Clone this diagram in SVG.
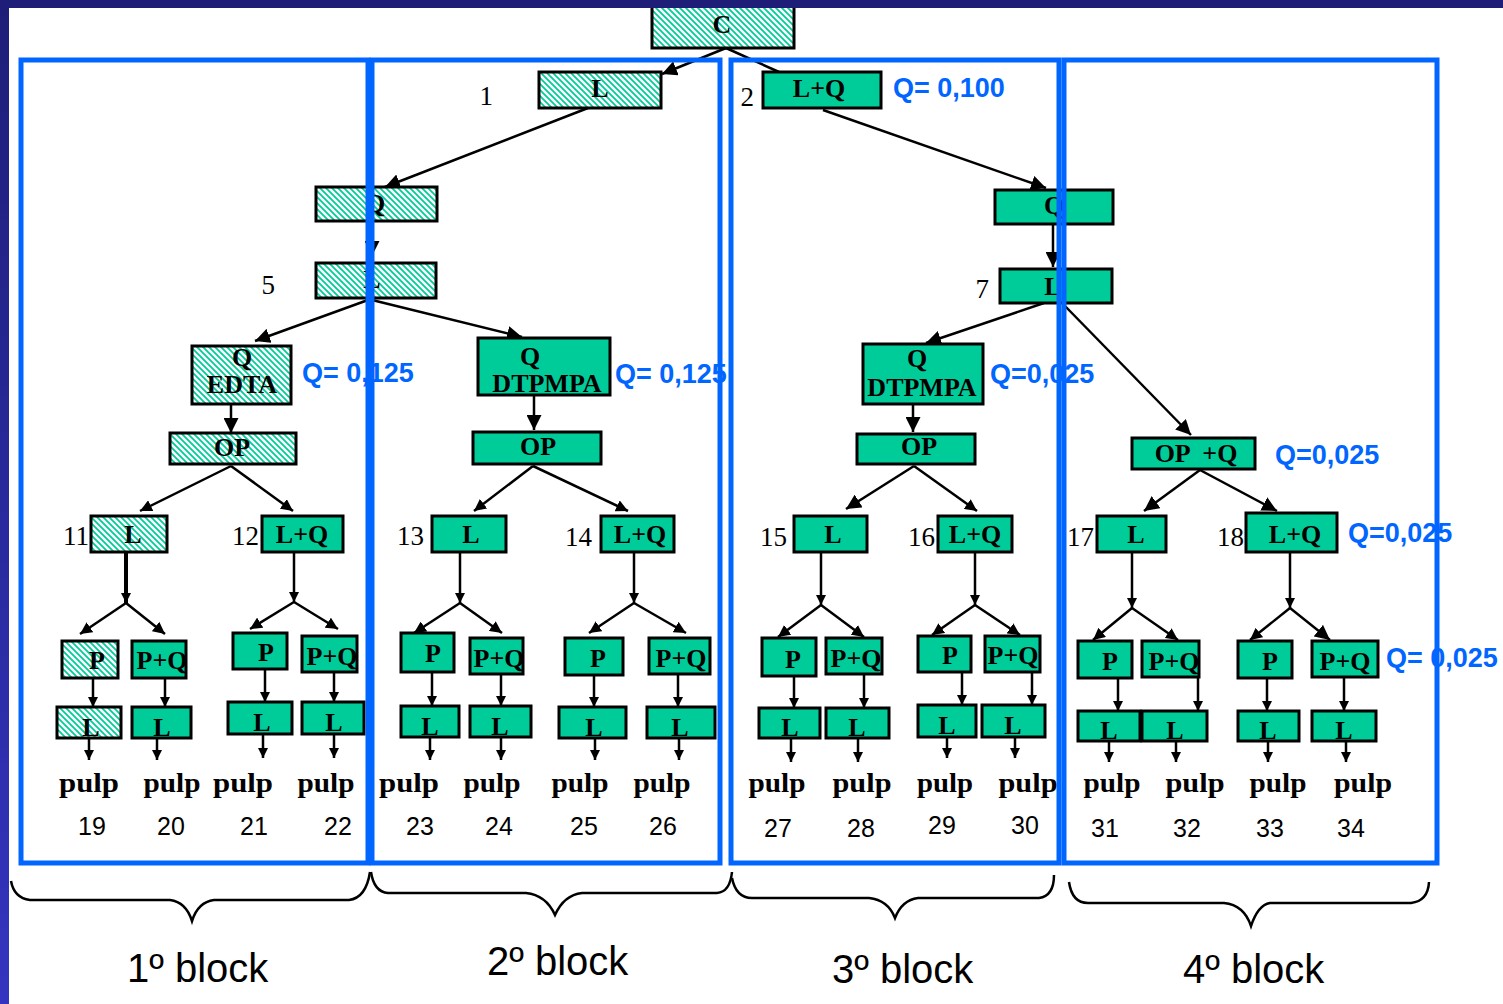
<svg xmlns="http://www.w3.org/2000/svg" width="1503" height="1004" viewBox="0 0 1503 1004">
<style>
.h{fill:url(#hatch);stroke:#000;stroke-width:3}
.s{fill:#00cc99;stroke:#000;stroke-width:3}
.lb{font-family:"Liberation Serif",serif;font-weight:bold;font-size:26px;text-anchor:middle;fill:#000}
.n{font-family:"Liberation Serif",serif;font-size:27px;text-anchor:end;fill:#000}
.bn{font-family:"Liberation Sans",sans-serif;font-size:25px;text-anchor:middle;fill:#000}
.pu{font-family:"Liberation Serif",serif;font-weight:bold;font-size:27px;text-anchor:middle;fill:#000}
.q{font-family:"Liberation Sans",sans-serif;font-weight:bold;font-size:27px;fill:#0066ff}
.fr{fill:none;stroke:#0066ff;stroke-width:5}
.c{fill:none;stroke:#000;stroke-width:2.5}
.ca{fill:none;stroke:#000;stroke-width:2.5;marker-end:url(#a)}
.cm{fill:none;stroke:#000;stroke-width:2.5;marker-end:url(#m)}
.cs{fill:none;stroke:#000;stroke-width:2.5;marker-end:url(#sm)}
.br{fill:none;stroke:#000;stroke-width:2.5}
.bl{font-family:"Liberation Sans",sans-serif;font-size:40px;fill:#000}
</style>
<defs>
<pattern id="hatch" patternUnits="userSpaceOnUse" width="6" height="6">
<rect width="6" height="6" fill="#fff"/>
<path d="M-1,-1 L7,7 M-1,5 L1,7 M5,-1 L7,1" stroke="#00cc99" stroke-width="1.8"/>
</pattern>
<linearGradient id="lg" x1="0" y1="0" x2="0" y2="1">
<stop offset="0" stop-color="#1e1e78"/>
<stop offset="1" stop-color="#3434c0"/>
</linearGradient>
<marker id="a" viewBox="0 0 10 10" refX="10" refY="5" markerUnits="userSpaceOnUse" markerWidth="15" markerHeight="15" orient="auto">
<path d="M0,0 L10,5 L0,10 z" fill="#000"/>
</marker>
<marker id="m" viewBox="0 0 10 10" refX="10" refY="5" markerUnits="userSpaceOnUse" markerWidth="12" markerHeight="12" orient="auto">
<path d="M0,0 L10,5 L0,10 z" fill="#000"/>
</marker>
<marker id="sm" viewBox="0 0 10 10" refX="10" refY="5" markerUnits="userSpaceOnUse" markerWidth="10" markerHeight="10" orient="auto">
<path d="M0,0 L10,5 L0,10 z" fill="#000"/>
</marker>
</defs>
<rect width="1503" height="1004" fill="#fff"/>

<g id="connectors">
<path class="ca" d="M726,48 L662,74"/>
<path class="c" d="M726,48 L779,72"/>
<path class="ca" d="M588,108 L385,187"/>
<path class="ca" d="M372,222 L372,256"/>
<path class="ca" d="M368,300 L255,341"/>
<path class="ca" d="M372,300 L522,337"/>
<path class="ca" d="M231,405 L231,433"/>
<path class="ca" d="M823,110 L1046,188"/>
<path class="ca" d="M1053,225 L1053,267"/>
<path class="ca" d="M1044,303 L926,343"/>
<path class="ca" d="M1065,306 L1191,435"/>
<path class="ca" d="M534,396 L534,430"/>
<path class="ca" d="M913,405 L913,432"/>
<path class="cm" d="M231,466 L140,511"/>
<path class="cm" d="M231,466 L293,511"/>
<path class="cm" d="M533,466 L474,511"/>
<path class="cm" d="M533,466 L628,511"/>
<path class="ca" d="M914,466 L846,509"/>
<path class="cm" d="M914,466 L977,511"/>
<path class="ca" d="M1200,470 L1144,511"/>
<path class="ca" d="M1200,470 L1277,511"/>
<!-- 11 -->
<path class="cs" d="M126,552 L126,603" style="stroke-width:4"/>
<path class="cm" d="M126,603 L80,634"/><path class="cm" d="M126,603 L165,634"/>
<path class="cs" d="M93,679 L93,707"/><path class="cs" d="M165,679 L165,707"/>
<path class="cs" d="M89,739 L89,760"/><path class="cs" d="M157,739 L157,760"/>
<!-- 12 -->
<path class="cs" d="M294,552 L294,602"/>
<path class="cm" d="M294,602 L250,629"/><path class="cm" d="M294,602 L338,629"/>
<path class="cs" d="M265,670 L265,702"/><path class="cs" d="M334,673 L334,702"/>
<path class="cs" d="M263,735 L263,758"/><path class="cs" d="M334,735 L334,758"/>
<!-- 13 -->
<path class="cs" d="M460,552 L460,603"/>
<path class="cm" d="M460,603 L414,633"/><path class="cm" d="M460,603 L502,633"/>
<path class="cs" d="M432,673 L432,706"/><path class="cs" d="M501,675 L501,706"/>
<path class="cs" d="M430,738 L430,760"/><path class="cs" d="M501,738 L501,760"/>
<!-- 14 -->
<path class="cs" d="M634,552 L634,603"/>
<path class="cm" d="M634,603 L589,633"/><path class="cm" d="M634,603 L686,633"/>
<path class="cs" d="M594,676 L594,707"/><path class="cs" d="M678,675 L678,707"/>
<path class="cs" d="M595,739 L595,760"/><path class="cs" d="M679,739 L679,760"/>
<!-- 15 -->
<path class="cs" d="M821,552 L821,605"/>
<path class="cm" d="M821,605 L778,637"/><path class="cm" d="M821,605 L864,637"/>
<path class="cs" d="M794,677 L794,708"/><path class="cs" d="M864,675 L864,708"/>
<path class="cs" d="M791,739 L791,762"/><path class="cs" d="M858,739 L858,762"/>
<!-- 16 -->
<path class="cs" d="M975,552 L975,605"/>
<path class="cm" d="M975,605 L932,635"/><path class="cm" d="M975,605 L1020,635"/>
<path class="cs" d="M962,673 L962,705"/><path class="cs" d="M1032,673 L1032,705"/>
<path class="cs" d="M947,738 L947,758"/><path class="cs" d="M1015,738 L1015,758"/>
<!-- 17 -->
<path class="cs" d="M1132,552 L1132,608"/>
<path class="cm" d="M1132,608 L1093,640"/><path class="cm" d="M1132,608 L1178,640"/>
<path class="cs" d="M1118,679 L1118,711"/><path class="cs" d="M1198,678 L1198,711"/>
<path class="cs" d="M1109,742 L1109,762"/><path class="cs" d="M1176,742 L1176,762"/>
<!-- 18 -->
<path class="cs" d="M1290,552 L1290,608"/>
<path class="cm" d="M1290,608 L1250,640"/><path class="ca" d="M1290,608 L1330,640"/>
<path class="cs" d="M1267,679 L1267,711"/><path class="cs" d="M1344,678 L1344,711"/>
<path class="cs" d="M1268,742 L1268,762"/><path class="cs" d="M1346,742 L1346,762"/>
</g>

<g id="node-C"><rect class="h" x="652" y="2" width="142" height="46"/><text class="lb" x="722" y="33">C</text></g>
<g id="node-1"><rect class="h" x="539" y="72" width="122" height="36"/><text class="lb" x="600" y="97">L</text><text class="n" x="493" y="105">1</text></g>
<g id="node-2"><rect class="s" x="763" y="72" width="118" height="36"/><text class="lb" x="819" y="97">L+Q</text><text class="n" x="754" y="106">2</text><text class="q" x="893" y="97">Q= 0,100</text></g>
<g id="node-3"><rect class="h" x="316" y="187" width="121" height="34"/><text class="lb" x="375" y="212">Q</text></g>
<g id="node-5"><rect class="h" x="316" y="263" width="120" height="35"/><text class="lb" x="372" y="288">L</text><text class="n" x="275" y="294">5</text></g>
<g id="node-Q-EDTA"><rect class="h" x="192" y="346" width="99" height="58"/><text class="lb" x="242" y="366">Q</text><text class="lb" x="242" y="393">EDTA</text><text class="q" x="302" y="382">Q= 0,125</text></g>
<g id="node-OP-1"><rect class="h" x="170" y="433" width="126" height="31"/><text class="lb" x="232" y="456">OP</text></g>
<g id="node-Q-DTPMPA-2"><rect class="s" x="478" y="338" width="132" height="57"/><text class="lb" x="530" y="365">Q</text><text class="lb" x="547" y="392">DTPMPA</text><text class="q" x="615" y="383">Q= 0,125</text></g>
<g id="node-OP-2"><rect class="s" x="473" y="432" width="128" height="32"/><text class="lb" x="538" y="455">OP</text></g>
<g id="node-6"><rect class="s" x="995" y="190" width="118" height="34"/><text class="lb" x="1054" y="214">Q</text></g>
<g id="node-7"><rect class="s" x="1000" y="269" width="112" height="34"/><text class="lb" x="1053" y="295">L</text><text class="n" x="989" y="298">7</text></g>
<g id="node-Q-DTPMPA-3"><rect class="s" x="863" y="344" width="120" height="60"/><text class="lb" x="917" y="367">Q</text><text class="lb" x="922" y="396">DTPMPA</text><text class="q" x="990" y="383">Q=0,025</text></g>
<g id="node-OP-3"><rect class="s" x="857" y="434" width="118" height="30"/><text class="lb" x="919" y="455">OP</text></g>
<g id="node-OPQ-4"><rect class="s" x="1132" y="438" width="123" height="31"/><text class="lb" x="1196" y="462" xml:space="preserve">OP  +Q</text><text class="q" x="1275" y="464">Q=0,025</text></g>

<g id="node-11"><rect class="h" x="91" y="516" width="76" height="36"/><text class="lb" x="133" y="543">L</text><text class="n" x="89" y="545">11</text></g>
<g id="node-12"><rect class="s" x="262" y="516" width="81" height="36"/><text class="lb" x="302" y="543">L+Q</text><text class="n" x="259" y="545">12</text></g>
<g id="node-13"><rect class="s" x="432" y="516" width="74" height="36"/><text class="lb" x="471" y="543">L</text><text class="n" x="424" y="545">13</text></g>
<g id="node-14"><rect class="s" x="601" y="516" width="73" height="36"/><text class="lb" x="640" y="543">L+Q</text><text class="n" x="592" y="546">14</text></g>
<g id="node-15"><rect class="s" x="794" y="516" width="73" height="36"/><text class="lb" x="833" y="543">L</text><text class="n" x="787" y="546">15</text></g>
<g id="node-16"><rect class="s" x="938" y="516" width="74" height="36"/><text class="lb" x="975" y="543">L+Q</text><text class="n" x="935" y="546">16</text></g>
<g id="node-17"><rect class="s" x="1097" y="516" width="69" height="36"/><text class="lb" x="1136" y="543">L</text><text class="n" x="1094" y="546">17</text></g>
<g id="node-18"><rect class="s" x="1246" y="513" width="91" height="39"/><text class="lb" x="1295" y="543">L+Q</text><text class="n" x="1244" y="546">18</text><text class="q" x="1348" y="542">Q=0,025</text></g>

<g id="node-P-11"><rect class="h" x="62" y="641" width="56" height="37"/><text class="lb" x="97" y="669">P</text></g>
<g id="node-PQ-11"><rect class="s" x="132" y="641" width="54" height="37"/><text class="lb" x="162" y="669">P+Q</text></g>
<g id="node-L-19"><rect class="h" x="57" y="707" width="64" height="31"/><text class="lb" x="91" y="736">L</text></g>
<g id="node-L-20"><rect class="s" x="132" y="707" width="59" height="31"/><text class="lb" x="162" y="736">L</text></g>
<g id="node-P-12"><rect class="s" x="233" y="633" width="54" height="36"/><text class="lb" x="266" y="661">P</text></g>
<g id="node-PQ-12"><rect class="s" x="302" y="636" width="55" height="36"/><text class="lb" x="332" y="665">P+Q</text></g>
<g id="node-L-21"><rect class="s" x="228" y="702" width="64" height="32"/><text class="lb" x="262" y="731">L</text></g>
<g id="node-L-22"><rect class="s" x="302" y="702" width="62" height="32"/><text class="lb" x="334" y="731">L</text></g>
<g id="node-P-13"><rect class="s" x="401" y="633" width="53" height="39"/><text class="lb" x="433" y="662">P</text></g>
<g id="node-PQ-13"><rect class="s" x="470" y="638" width="53" height="36"/><text class="lb" x="499" y="667">P+Q</text></g>
<g id="node-L-23"><rect class="s" x="401" y="706" width="58" height="31"/><text class="lb" x="430" y="735">L</text></g>
<g id="node-L-24"><rect class="s" x="470" y="706" width="61" height="31"/><text class="lb" x="500" y="735">L</text></g>
<g id="node-P-14"><rect class="s" x="565" y="638" width="58" height="37"/><text class="lb" x="598" y="667">P</text></g>
<g id="node-PQ-14"><rect class="s" x="649" y="638" width="61" height="36"/><text class="lb" x="681" y="667">P+Q</text></g>
<g id="node-L-25"><rect class="s" x="559" y="707" width="67" height="31"/><text class="lb" x="594" y="736">L</text></g>
<g id="node-L-26"><rect class="s" x="647" y="707" width="68" height="31"/><text class="lb" x="680" y="736">L</text></g>
<g id="node-P-15"><rect class="s" x="762" y="638" width="54" height="38"/><text class="lb" x="793" y="668">P</text></g>
<g id="node-PQ-15"><rect class="s" x="826" y="638" width="56" height="36"/><text class="lb" x="856" y="667">P+Q</text></g>
<g id="node-L-27"><rect class="s" x="759" y="708" width="61" height="30"/><text class="lb" x="790" y="736">L</text></g>
<g id="node-L-28"><rect class="s" x="826" y="708" width="63" height="30"/><text class="lb" x="857" y="736">L</text></g>
<g id="node-P-16"><rect class="s" x="918" y="636" width="53" height="36"/><text class="lb" x="950" y="664">P</text></g>
<g id="node-PQ-16"><rect class="s" x="985" y="636" width="55" height="36"/><text class="lb" x="1013" y="664">P+Q</text></g>
<g id="node-L-29"><rect class="s" x="918" y="705" width="58" height="32"/><text class="lb" x="947" y="734">L</text></g>
<g id="node-L-30"><rect class="s" x="982" y="705" width="63" height="32"/><text class="lb" x="1013" y="734">L</text></g>
<g id="node-P-17"><rect class="s" x="1078" y="641" width="54" height="37"/><text class="lb" x="1110" y="670">P</text></g>
<g id="node-PQ-17"><rect class="s" x="1142" y="641" width="57" height="36"/><text class="lb" x="1174" y="670">P+Q</text></g>
<g id="node-L-31"><rect class="s" x="1078" y="711" width="62" height="30"/><text class="lb" x="1109" y="739">L</text></g>
<g id="node-L-32"><rect class="s" x="1142" y="711" width="65" height="30"/><text class="lb" x="1175" y="739">L</text></g>
<g id="node-P-18"><rect class="s" x="1238" y="641" width="54" height="37"/><text class="lb" x="1270" y="670">P</text></g>
<g id="node-PQ-18"><rect class="s" x="1312" y="641" width="66" height="36"/><text class="lb" x="1345" y="670">P+Q</text><text class="q" x="1386" y="667">Q= 0,025</text></g>
<g id="node-L-33"><rect class="s" x="1238" y="711" width="61" height="30"/><text class="lb" x="1268" y="739">L</text></g>
<g id="node-L-34"><rect class="s" x="1312" y="711" width="64" height="30"/><text class="lb" x="1344" y="739">L</text></g>

<g id="pulp-labels">
<text class="pu" x="89" y="792" textLength="60" lengthAdjust="spacingAndGlyphs">pulp</text>
<text class="pu" x="172" y="792" textLength="57" lengthAdjust="spacingAndGlyphs">pulp</text>
<text class="pu" x="243" y="792" textLength="60" lengthAdjust="spacingAndGlyphs">pulp</text>
<text class="pu" x="326" y="792" textLength="57" lengthAdjust="spacingAndGlyphs">pulp</text>
<text class="pu" x="409" y="792" textLength="60" lengthAdjust="spacingAndGlyphs">pulp</text>
<text class="pu" x="492" y="792" textLength="57" lengthAdjust="spacingAndGlyphs">pulp</text>
<text class="pu" x="580" y="792" textLength="57" lengthAdjust="spacingAndGlyphs">pulp</text>
<text class="pu" x="662" y="792" textLength="57" lengthAdjust="spacingAndGlyphs">pulp</text>
<text class="pu" x="777" y="792" textLength="57" lengthAdjust="spacingAndGlyphs">pulp</text>
<text class="pu" x="862" y="792" textLength="59" lengthAdjust="spacingAndGlyphs">pulp</text>
<text class="pu" x="945" y="792" textLength="56" lengthAdjust="spacingAndGlyphs">pulp</text>
<text class="pu" x="1028" y="792" textLength="59" lengthAdjust="spacingAndGlyphs">pulp</text>
<text class="pu" x="1112" y="792" textLength="57" lengthAdjust="spacingAndGlyphs">pulp</text>
<text class="pu" x="1195" y="792" textLength="59" lengthAdjust="spacingAndGlyphs">pulp</text>
<text class="pu" x="1278" y="792" textLength="57" lengthAdjust="spacingAndGlyphs">pulp</text>
<text class="pu" x="1363" y="792" textLength="58" lengthAdjust="spacingAndGlyphs">pulp</text>
</g>
<g id="sample-numbers">
<text class="bn" x="92" y="835">19</text>
<text class="bn" x="171" y="835">20</text>
<text class="bn" x="254" y="835">21</text>
<text class="bn" x="338" y="835">22</text>
<text class="bn" x="420" y="835">23</text>
<text class="bn" x="499" y="835">24</text>
<text class="bn" x="584" y="835">25</text>
<text class="bn" x="663" y="835">26</text>
<text class="bn" x="778" y="837">27</text>
<text class="bn" x="861" y="837">28</text>
<text class="bn" x="942" y="834">29</text>
<text class="bn" x="1025" y="834">30</text>
<text class="bn" x="1105" y="837">31</text>
<text class="bn" x="1187" y="837">32</text>
<text class="bn" x="1270" y="837">33</text>
<text class="bn" x="1351" y="837">34</text>
</g>

<g id="block-frames">
<rect class="fr" x="21" y="60" width="347" height="803"/>
<rect class="fr" x="372" y="60" width="348" height="803"/>
<rect class="fr" x="731" y="60" width="328" height="803"/>
<rect class="fr" x="1064" y="60" width="373" height="803"/>
</g>

<g id="braces">
<path class="br" d="M11,881 Q14,898 30,900 L170,900 Q186,902 192,921 Q198,902 214,900 L349,900 Q366,898 370,872"/>
<path class="br" d="M371,872 Q374,892 388,893 L526,893 Q546,895 555,915 Q564,895 582,893 L717,893 Q730,892 732,872"/>
<path class="br" d="M732,878 Q736,898 752,898 L869,898 Q888,900 895,918 Q902,900 918,898 L1039,898 Q1054,896 1054,875"/>
<path class="br" d="M1069,882 Q1072,903 1088,903 L1224,903 Q1244,905 1251,926 Q1258,905 1270,903 L1411,903 Q1428,901 1429,882"/>
<text class="bl" x="127" y="982">1º block</text>
<text class="bl" x="487" y="975">2º block</text>
<text class="bl" x="832" y="983">3º block</text>
<text class="bl" x="1183" y="983">4º block</text>
</g>

<rect x="0" y="0" width="1503" height="8" fill="#1e1e78"/>
<rect x="0" y="0" width="9" height="1004" fill="url(#lg)"/>
</svg>
